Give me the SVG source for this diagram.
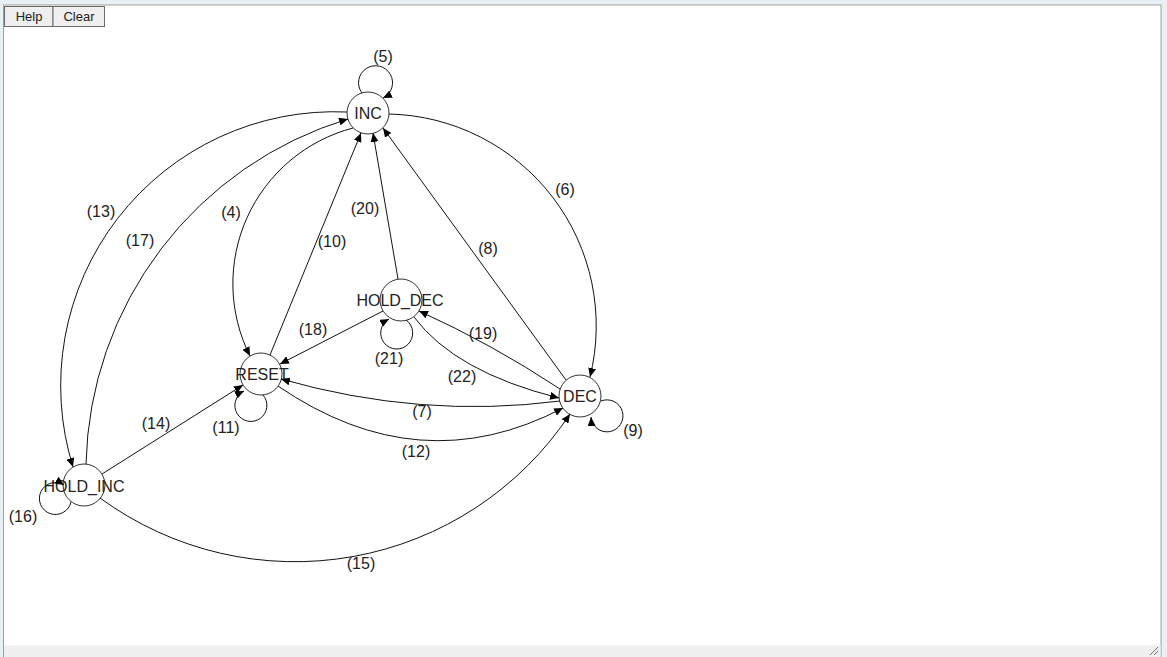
<svg xmlns="http://www.w3.org/2000/svg" width="1167" height="657" viewBox="0 0 1167 657">
<style>
.node circle{fill:#fff;stroke:#333;stroke-width:1}
.node text,.lbl{font-family:"Liberation Sans",Arial,sans-serif;font-size:16px;fill:#222;text-anchor:middle}
.edge{fill:none;stroke:#111;stroke-width:1;marker-end:url(#ah)}
.btn rect{fill:#efefef;stroke:#6b6b6b;stroke-width:1}
.btn text{font-family:"Liberation Sans",Arial,sans-serif;font-size:13px;fill:#222;text-anchor:middle}
</style>
<defs>
<marker id="ah" markerUnits="userSpaceOnUse" markerWidth="9" markerHeight="8" viewBox="0 0 9 8" refX="9" refY="4" orient="auto">
<path d="M0,0 L9,4 L0,8 z" fill="#000"/>
</marker>
</defs>
<rect x="0" y="0" width="1167" height="657" fill="#e7f1f4"/>
<rect x="3.5" y="5" width="1157.5" height="652" fill="#fff" stroke="#a0a0a0" stroke-width="1"/>
<rect x="4" y="645.5" width="1156.5" height="11.5" fill="#efefef"/>
<g stroke="#777" stroke-width="1">
<line x1="1150" y1="655" x2="1158" y2="647"/>
<line x1="1154" y1="655" x2="1158" y2="651"/>
</g>
<g id="buttons">
<g class="btn" id="btn-help"><rect x="4.5" y="6.5" width="48.5" height="20"/><text x="29" y="21">Help</text></g>
<g class="btn" id="btn-clear"><rect x="53" y="6.5" width="51.5" height="20"/><text x="79" y="21">Clear</text></g>
</g>
<g id="nodes">
<g class="node" id="INC"><circle cx="368" cy="113" r="21"/><text x="368" y="119">INC</text></g>
<g class="node" id="RESET"><circle cx="261" cy="374" r="21"/><text x="262" y="380">RESET</text></g>
<g class="node" id="HOLD_DEC"><circle cx="401" cy="300" r="21"/><text x="400" y="306">HOLD_DEC</text></g>
<g class="node" id="DEC"><circle cx="580" cy="396" r="21"/><text x="580" y="402">DEC</text></g>
<g class="node" id="HOLD_INC"><circle cx="84" cy="485" r="21"/><text x="84" y="492">HOLD_INC</text></g>
</g>
<g id="connectors">
<path class="edge" d="M362 93 A17 17 0 1 1 383 98"/>
<path class="edge" d="M389 114 A212 212 0 0 1 590 377"/>
<path class="edge" d="M347 112 A274 274 0 0 0 73 467"/>
<path class="edge" d="M86 464 A369 369 0 0 1 348 119"/>
<path class="edge" d="M353 128 A161 161 0 0 0 250 356"/>
<path class="edge" d="M270 355 L361 133"/>
<path class="edge" d="M398 279 L373 133"/>
<path class="edge" d="M566 380 L383 128"/>
<path class="edge" d="M383 311 L280 364"/>
<path class="edge" d="M560 389 Q492 344 419 311"/>
<path class="edge" d="M414 317 Q455 372 559 398"/>
<path class="edge" d="M406 320 A16 16 0 1 1 389 319"/>
<path class="edge" d="M560 401 Q421 419 281 379"/>
<path class="edge" d="M278 386 Q419.5 483 563 408"/>
<path class="edge" d="M263 395 A16 16 0 1 1 244 391"/>
<path class="edge" d="M601 401 A16 16 0 1 1 591 417"/>
<path class="edge" d="M102 474 L243 385"/>
<path class="edge" d="M100 498 A330 330 0 0 0 570 414"/>
<path class="edge" d="M71 502 A16 16 0 1 1 64 485"/>
<g id="labels">
<text class="lbl" x="383" y="62">(5)</text>
<text class="lbl" x="565" y="195">(6)</text>
<text class="lbl" x="101" y="217">(13)</text>
<text class="lbl" x="140" y="246">(17)</text>
<text class="lbl" x="231" y="218">(4)</text>
<text class="lbl" x="365" y="214">(20)</text>
<text class="lbl" x="332" y="247">(10)</text>
<text class="lbl" x="488" y="254">(8)</text>
<text class="lbl" x="313" y="335">(18)</text>
<text class="lbl" x="483" y="339">(19)</text>
<text class="lbl" x="389" y="364">(21)</text>
<text class="lbl" x="462" y="382">(22)</text>
<text class="lbl" x="422" y="417">(7)</text>
<text class="lbl" x="416" y="457">(12)</text>
<text class="lbl" x="226" y="433">(11)</text>
<text class="lbl" x="633" y="436">(9)</text>
<text class="lbl" x="156" y="429">(14)</text>
<text class="lbl" x="23" y="522">(16)</text>
<text class="lbl" x="361" y="569">(15)</text>
</g>
</g>
</svg>
